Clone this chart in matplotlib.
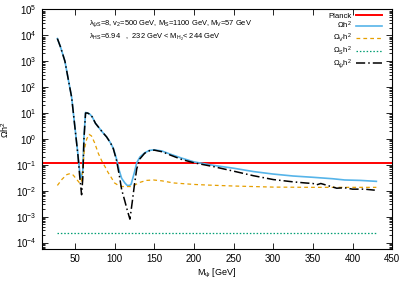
import matplotlib
matplotlib.use('Agg')
import matplotlib.pyplot as plt
from matplotlib.ticker import LogLocator, NullFormatter, MultipleLocator

plt.rcParams['font.family'] = ['Liberation Sans', 'DejaVu Sans']
plt.rcParams['mathtext.fontset'] = 'custom'
plt.rcParams['mathtext.rm'] = 'Liberation Sans'
plt.rcParams['mathtext.it'] = 'Liberation Sans'
plt.rcParams['mathtext.default'] = 'regular'

# Omega_psi h^2 (black dash-dot)
m_psi = [28, 32, 37.5, 42, 46, 50, 54, 56, 58.5, 60, 61.5, 63.5, 66, 69, 72, 76, 80, 85, 90,
         95, 98.5, 102.5, 106, 109, 113, 116, 119.4, 121, 122.5, 125, 128, 132, 138, 144, 150,
         160, 170, 185, 200, 225, 250, 275, 300, 325, 340, 350, 355, 360, 380, 390, 400, 415, 428]
om_psi = [7.5e3, 3.5e3, 1.0e3, 180, 40, 3.0, 0.22, 0.04, 0.007, 0.03, 1.0, 10, 10, 9, 7, 4, 2.8, 1.8, 1.2,
          0.7, 0.42, 0.15, 0.04, 0.011, 0.004, 0.0018, 0.0008, 0.0018, 0.004, 0.016, 0.07, 0.17, 0.28, 0.35, 0.37,
          0.32, 0.24, 0.16, 0.12, 0.085, 0.057, 0.038, 0.027, 0.022, 0.020, 0.019, 0.017, 0.019, 0.0125, 0.013,
          0.0115, 0.0115, 0.0105]

# total Omega h^2 (blue)
m_tot = [28, 32, 37.5, 42, 46, 50, 54, 56, 58, 60, 61.5, 63.5, 66, 69, 72, 76, 80, 85, 90, 95, 98.5,
         102.5, 106, 109, 113, 116, 119, 121, 123, 125, 128, 132, 138, 144, 150, 160, 170, 185, 200,
         225, 250, 275, 300, 325, 350, 375, 390, 410, 430]
om_tot = [7.5e3, 3.5e3, 1.0e3, 180, 40, 3.0, 0.24, 0.06, 0.03, 0.06, 1.2, 10.5, 10, 9, 7, 4, 2.8, 1.8, 1.2, 0.7, 0.43,
          0.17, 0.06, 0.03, 0.02, 0.016, 0.016, 0.018, 0.03, 0.05, 0.12, 0.2, 0.29, 0.36, 0.38, 0.34, 0.26, 0.18, 0.13,
          0.095, 0.074, 0.055, 0.044, 0.037, 0.033, 0.029, 0.026, 0.025, 0.023]

# Omega_V h^2 (orange dashed)
m_v = [28, 34, 40, 44, 48, 52, 56, 58, 60, 62, 65, 68, 71, 75, 79.5, 84, 88, 92, 96, 100, 105, 110,
       120, 126, 132, 140, 149, 160, 174, 200, 216, 250, 300, 350, 430]
om_v = [0.016, 0.028, 0.042, 0.046, 0.04, 0.028, 0.02, 0.02, 0.06, 0.4, 1.0, 1.5, 1.3, 0.7, 0.28, 0.14, 0.085,
        0.05, 0.032, 0.02, 0.016, 0.0145, 0.0145, 0.017, 0.021, 0.025, 0.026, 0.024, 0.02, 0.0175, 0.0166,
        0.0152, 0.0138, 0.0135, 0.0135]

# Omega_S h^2 (green dotted)
m_s = [28, 430]
om_s = [2.3e-4, 2.3e-4]

planck = 0.12

fig = plt.figure(figsize=(4.09, 2.86), dpi=100)
ax = fig.add_axes([0.1015, 0.1285, 0.8575, 0.8385])

ax.axhline(planck, color='#ff0000', lw=1.4, label='Planck')
ax.plot(m_tot, om_tot, color='#56b4e9', lw=1.2, label=r'$\Omega h^2$')
ax.plot(m_v, om_v, color='#e69f00', lw=0.9, ls=(0, (3, 2.5)), label=r'$\Omega_V h^2$')
ax.plot(m_s, om_s, color='#009e73', lw=0.9, ls=(0, (1.2, 1.5)), label=r'$\Omega_S h^2$')
ax.plot(m_psi, om_psi, color='black', lw=1.1, ls=(0, (6, 2, 1, 2)), label=r'$\Omega_\psi h^2$')

ax.set_yscale('log')
ax.set_xlim(8, 450)
ax.set_ylim(10**-4.26, 1e5)
ax.xaxis.set_major_locator(MultipleLocator(50))
ax.yaxis.set_major_locator(LogLocator(base=10, numticks=20))
ax.yaxis.set_minor_locator(LogLocator(base=10, subs=range(2, 10), numticks=20))
ax.yaxis.set_minor_formatter(NullFormatter())
ax.tick_params(which='both', direction='in', top=True, right=True, labelsize=7, width=0.6)
ax.tick_params(which='major', length=4)
ax.tick_params(which='minor', length=2)
for s in ax.spines.values():
    s.set_linewidth(0.8)

ax.set_xlabel(r'$M_\psi$ [GeV]', fontsize=6.5, labelpad=2)
ax.set_ylabel(r'$\Omega h^2$', fontsize=6.5, labelpad=4)

ax.text(0.135, 0.943, r'$\lambda_{\psi S}$=8, $v_2$=500 GeV, $M_S$=1100 GeV, $M_V$=57 GeV',
        transform=ax.transAxes, fontsize=5.4, va='center', ha='left')
ax.text(0.135, 0.883, r'$\lambda_{HS}$=6.94   ,  232 GeV < $M_{H_2}$< 244 GeV',
        transform=ax.transAxes, fontsize=5.4, va='center', ha='left')

ax.legend(loc='upper right', bbox_to_anchor=(0.975, 0.995), frameon=False, markerfirst=False,
          fontsize=5.6, handlelength=3.3, handletextpad=0.6, labelspacing=0.05, borderaxespad=0,
          borderpad=0.2)

plt.savefig('out.png', dpi=100)
